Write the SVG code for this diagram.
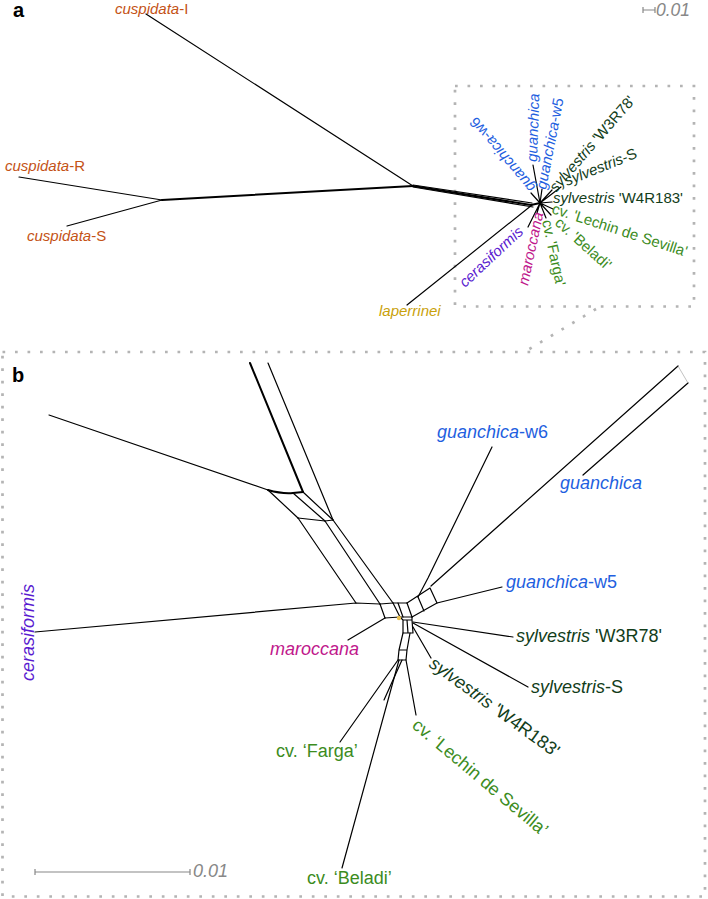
<svg xmlns="http://www.w3.org/2000/svg" width="708" height="899" viewBox="0 0 708 899">
<style>
text{font-family:"Liberation Sans",Arial,sans-serif}
.a{font-size:15px}
.b{font-size:18px}
.i{font-style:italic}
.cus{fill:#c45216}
.lap{fill:#c9a10a}
.gua{fill:#1f5fe0}
.syl{fill:#123d1a}
.cv{fill:#3c8c1e}
.mar{fill:#c0188c}
.cer{fill:#5a1bd0}
.e{stroke:#000;stroke-width:1.2;fill:none;stroke-linejoin:round;stroke-linecap:round}
.t{stroke-width:2}
.dot{stroke:#b4b4b4;stroke-width:2.7;fill:none;stroke-dasharray:2.7 9.8}
.sc{stroke:#888;stroke-width:1.2;fill:none}
.sct{fill:#888;font-style:italic}
.lbl{font-weight:bold;font-size:20px;fill:#000}
</style>
<rect width="708" height="899" fill="#fff"/>
<g id="frames">
<rect class="dot" x="455" y="86" width="239" height="220.5"/>
<path class="dot" d="M596,309 L526,351"/>
<rect class="dot" x="2.5" y="352" width="702.5" height="544.5"/>
<text class="lbl" x="13" y="16.5">a</text>
<text class="lbl" x="12" y="382">b</text>
</g>
<g id="connectors">
<!-- panel a -->
<path class="e" d="M146,14 L413,186"/>
<path class="e" d="M19,177 L162,200"/>
<path class="e" d="M67,226 L162,200"/>
<path class="e t" d="M162,200 L413,186"/>
<path class="e t" d="M413,186 L531,205 L540,203"/>
<path class="e" d="M413,187 L533,207"/>
<path class="e" d="M413,185 L532,203"/>
<path class="e" d="M407,305 L532,205"/>
<path class="e" d="M540,203 L531,193 M540,203 L533,165 M540,203 L542,189 M540,203 L552,190 M540,203 L561,187 M540,203 L552,202 M540,203 L553,209 M540,203 L551,215 M540,203 L546,218 M540,203 L537,213 M540,203 L528,227"/>
<!-- panel b -->
<path class="e t" d="M250,363 L303,492"/>
<path class="e" d="M268,363 L333,520"/>
<path class="e" d="M49,415 L268,490"/>
<path class="e t" d="M268,490 Q282,494 293,493 L303,492"/>
<path class="e" d="M268,490 L298,518 M293,493 L325,521 M303,492 L333,520"/>
<path class="e" d="M298,518 L325,521 L333,520"/>
<path class="e" d="M298,518 L356,603 M325,521 L380,604 M333,520 L393,603"/>
<path class="e" d="M35,632 L356,603 L380,604"/>
<path class="e" d="M380,604 L393,603 L398,603 L407,603"/>
<path class="e" d="M385,618 L400,617 L412,617"/>
<path class="e" d="M380,604 L385,618 M393,603 L400,617 M398,603 L403,617 M407,603 L412,617"/>
<path class="e" d="M407,603 L430,588 L437,603 L412,617 M418,597 L424,611"/>
<path class="e" d="M437,603 L502,587"/>
<path class="e" d="M492,447 L428,578 L418,597"/>
<path class="e" d="M678,366 L431,586"/>
<path class="e" d="M688,383 L583,475"/>
<path d="M678,366 L688,383" stroke="#999" stroke-width="0.6"/>
<path class="e" d="M348,640 L385,618"/>
<path class="e" d="M400,617 L403,620 L412,620 L412,617 M403,620 L403,633 L413,633 L412,620 M407,620 L408,633"/>
<path class="e" d="M403,633 L399,650 M410,633 L407,650 M399,650 L407,650 L406,660 L398,660 Z"/>
<path class="e" d="M398,660 L340,742 M402,660 L384,700"/>
<path class="e" d="M399,660 L342,868"/>
<path class="e" d="M406,660 L416,715"/>
<path class="e" d="M413,627 L431,658"/>
<path class="e" d="M413,623 L528,687"/>
<path class="e" d="M413,622 L513,637"/>
<circle cx="399" cy="618" r="2.2" fill="#e8c050"/>
</g>
<g id="scale-a">
<path class="sc" d="M643,10 L655,10 M643,7 L643,13 M655,7 L655,13"/>
<text class="sct" x="656" y="16" font-size="17.5">0.01</text>
</g>
<g id="scale-b">
<path class="sc" d="M35,872 L190,872 M35,869 L35,875 M190,869 L190,875"/>
<text class="sct" x="193" y="877" font-size="18">0.01</text>
</g>
<!-- panel a labels -->
<g id="a-cuspidata-I"><text class="a cus" x="115" y="13.5"><tspan class="i">cuspidata</tspan>-I</text></g>
<g id="a-cuspidata-R"><text class="a cus" x="5" y="171"><tspan class="i">cuspidata</tspan>-R</text></g>
<g id="a-cuspidata-S"><text class="a cus" x="27" y="241"><tspan class="i">cuspidata</tspan>-S</text></g>
<g id="a-laperrinei"><text class="a lap i" x="379" y="316">laperrinei</text></g>
<g id="a-guanchica-w6"><text class="a gua" transform="translate(536,187) rotate(230)"><tspan class="i">guanchica</tspan>-w6</text></g>
<g id="a-guanchica"><text class="a gua i" transform="translate(537,162) rotate(-88)">guanchica</text></g>
<g id="a-guanchica-w5"><text class="a gua" transform="translate(546,190) rotate(-79)"><tspan class="i">guanchica</tspan>-w5</text></g>
<g id="a-W3R78"><text class="a syl" transform="translate(556,193) rotate(-49)"><tspan class="i">sylvestris</tspan> 'W3R78'</text></g>
<g id="a-sylvestris-S"><text class="a syl" transform="translate(567,186) rotate(-22)"><tspan class="i">sylvestris</tspan>-S</text></g>
<g id="a-W4R183"><text class="a syl" x="553" y="203"><tspan class="i">sylvestris</tspan> 'W4R183'</text></g>
<g id="a-lechin"><text class="a cv" transform="translate(551,213) rotate(18)">cv. 'Lechin de Sevilla'</text></g>
<g id="a-beladi"><text class="a cv" transform="translate(554,224) rotate(42)">cv. 'Beladi'</text></g>
<g id="a-farga"><text class="a cv" transform="translate(542,221) rotate(78)">cv. 'Farga'</text></g>
<g id="a-maroccana"><text class="a mar i" transform="translate(528,286) rotate(-78)">maroccana</text></g>
<g id="a-cerasiformis"><text class="a cer i" font-size="16" transform="translate(465,288) rotate(-43)">cerasiformis</text></g>
<!-- panel b labels -->
<g id="b-guanchica-w6"><text class="b gua" x="437" y="438"><tspan class="i">guanchica</tspan>-w6</text></g>
<g id="b-guanchica"><text class="b gua i" x="560" y="489">guanchica</text></g>
<g id="b-guanchica-w5"><text class="b gua" x="506" y="588"><tspan class="i">guanchica</tspan>-w5</text></g>
<g id="b-W3R78"><text class="b syl" x="516" y="642"><tspan class="i">sylvestris</tspan> 'W3R78'</text></g>
<g id="b-sylvestris-S"><text class="b syl" x="531" y="693"><tspan class="i">sylvestris</tspan>-S</text></g>
<g id="b-maroccana"><text class="b mar i" x="270" y="655">maroccana</text></g>
<g id="b-cerasiformis"><text class="b cer i" transform="translate(34,681) rotate(-90)">cerasiformis</text></g>
<g id="b-farga"><text class="b cv" x="276" y="757">cv. ‘Farga’</text></g>
<g id="b-beladi"><text class="b cv" x="307" y="884">cv. ‘Beladi’</text></g>
<g id="b-W4R183"><text class="b syl" transform="translate(428,666) rotate(36)"><tspan class="i">sylvestris</tspan> 'W4R183'</text></g>
<g id="b-lechin"><text class="b cv" transform="translate(411,727) rotate(40)">cv. ‘Lechin de Sevilla’</text></g>
</svg>
